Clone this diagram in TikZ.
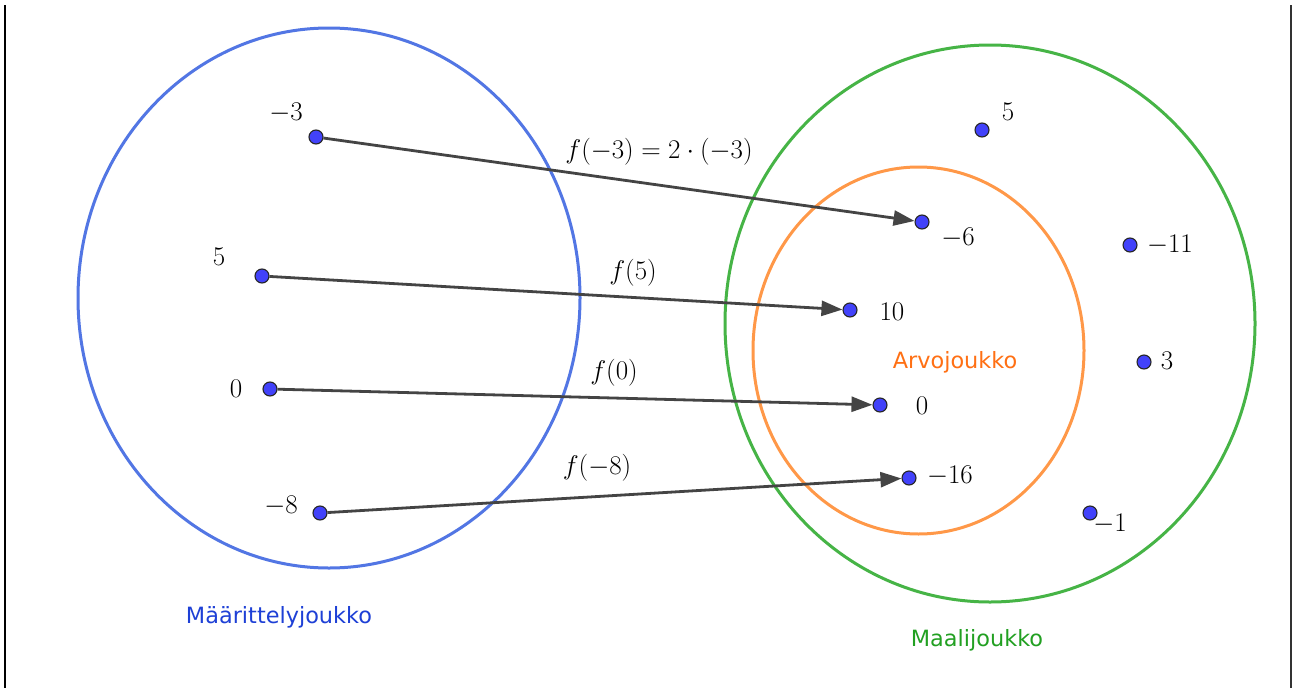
\RequirePackage{fix-cm}
\documentclass[tikz,border=0pt]{standalone}
\usepackage{fontspec}
\newfontfamily\labfont{DejaVu Sans}
\usetikzlibrary{arrows.meta}
\pgfdeclarelayer{background}
\pgfsetlayers{background,main}
\definecolor{setblue}{RGB}{82,118,228}
\definecolor{setgreen}{RGB}{70,180,70}
\definecolor{setorange}{RGB}{255,152,72}
\definecolor{txtblue}{RGB}{30,64,214}
\definecolor{txtgreen}{RGB}{34,160,34}
\definecolor{txtorange}{RGB}{255,112,20}
\definecolor{dotblue}{RGB}{66,66,250}
\definecolor{arrowgray}{RGB}{68,68,68}
\tikzset{
  dot/.style={circle,fill=dotblue,draw=black!85,line width=1.1pt,minimum size=14pt,inner sep=0pt},
  num/.style={font=\fontsize{27}{31}\selectfont,inner sep=0pt},
  maplabel/.style={font=\fontsize{27}{31}\selectfont,inner sep=0pt},
  setlabel/.style={font=\labfont\fontsize{22.4}{26}\selectfont,inner sep=0pt},
  setline/.style={line width=3pt},
  maparrow/.style={draw=arrowgray,line width=2.8pt,-{Triangle[length=21pt,width=15pt]}},
  border/.style={line width=2pt}
}
\begin{document}
\begin{tikzpicture}[x=1pt,y=-1pt]
\useasboundingbox (0,0) rectangle (1293,688);
% domain points
\node[dot] (a1) at (316,137) {};
\node[dot] (a2) at (262,276) {};
\node[dot] (a3) at (270,389) {};
\node[dot] (a4) at (320,513) {};
\node[num] at (286,113) {$-3$};
\node[num] at (219,257) {$5$};
\node[num] at (236,389) {$0$};
\node[num] at (281,506) {$-8$};
% codomain points
\node[dot] (b1) at (982,130) {};
\node[dot] (b2) at (922,222) {};
\node[dot] (b3) at (1130,245) {};
\node[dot] (b4) at (850,310) {};
\node[dot] (b5) at (1144,362) {};
\node[dot] (b6) at (880,405) {};
\node[dot] (b7) at (909,478) {};
\node[dot] (b8) at (1090,513) {};
\node[num] at (1008,112) {$5$};
\node[num] at (958,238) {$-6$};
\node[num] at (1170,245) {$-11$};
\node[num] at (892,312) {$10$};
\node[num] at (1167,361) {$3$};
\node[num] at (922,406) {$0$};
\node[num] at (950,476) {$-16$};
\node[num] at (1110,524) {$-1$};
% background: page, borders, sets, arrows
\begin{pgfonlayer}{background}
\fill[white] (0,0) rectangle (1293,688);
\draw[border,black] (5,5) -- (5,688);
\draw[border,black!80] (1290.5,5) -- (1290.5,688);
\draw[setline,setblue] (329,298) ellipse [x radius=251pt,y radius=270pt];
\draw[setline,setgreen] (990,323.5) ellipse [x radius=265pt,y radius=278.5pt];
\draw[setline,setorange] (918.5,350.5) ellipse [x radius=165.5pt,y radius=183.5pt];
\draw[maparrow] (a1) -- (b2);
\draw[maparrow] (a2) -- (b4);
\draw[maparrow] (a3) -- (b6);
\draw[maparrow] (a4) -- (b7);
\end{pgfonlayer}
\node[maplabel] at (659,152) {$f(-3)=2\cdot(-3)$};
\node[maplabel] at (633,273) {$f(5)$};
\node[maplabel] at (614,373) {$f(0)$};
\node[maplabel] at (597,468) {$f(-8)$};
% set labels
\node[setlabel,text=txtblue] at (279,617) {Määrittelyjoukko};
\node[setlabel,text=txtorange] at (955,362) {Arvojoukko};
\node[setlabel,text=txtgreen] at (977,640) {Maalijoukko};
\end{tikzpicture}
\end{document}
